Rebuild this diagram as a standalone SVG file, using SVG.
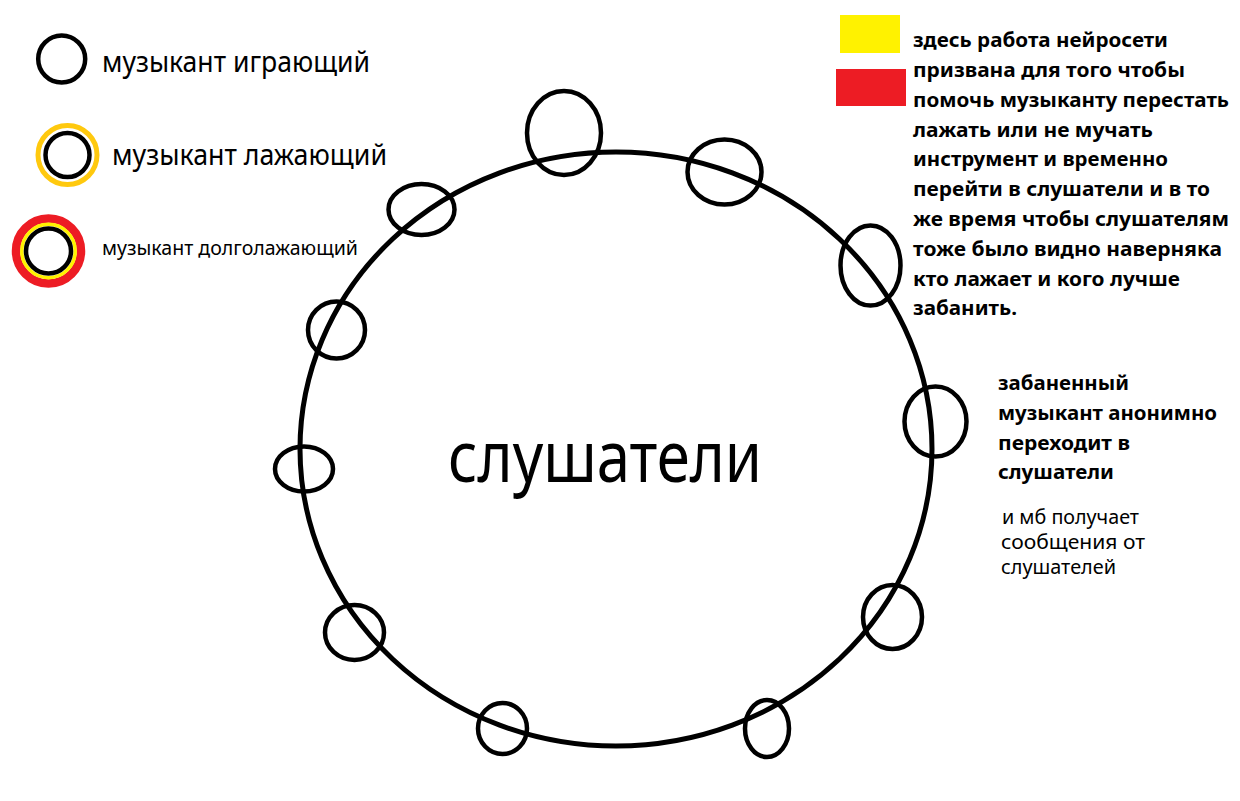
<svg xmlns="http://www.w3.org/2000/svg" width="1240" height="801" viewBox="0 0 1240 801">
<style>
.ring{fill:none;stroke:#000;stroke-width:4.5}
.big{fill:none;stroke:#000;stroke-width:5}
.t{font-family:"Noto Sans","Open Sans","DejaVu Sans",sans-serif;fill:#000}
.b{font-weight:bold;font-size:20px}
.r{font-size:19px}
</style>
<rect width="1240" height="801" fill="#fff"/>
<g id="legend">
  <g id="legend-playing">
    <circle cx="61.7" cy="59" r="23.5" class="ring" stroke-width="5"/>
    <text class="t" x="102" y="72" font-size="29" textLength="268" lengthAdjust="spacingAndGlyphs">музыкант играющий</text>
  </g>
  <g id="legend-faking">
    <circle cx="67.5" cy="155" r="29.5" fill="none" stroke="#FFC90E" stroke-width="5"/>
    <circle cx="67.5" cy="155" r="22" class="ring" stroke-width="5"/>
    <text class="t" x="112" y="165" font-size="29" textLength="275" lengthAdjust="spacingAndGlyphs">музыкант лажающий</text>
  </g>
  <g id="legend-longfaking">
    <circle cx="48.5" cy="251" r="32.5" fill="none" stroke="#ED1C24" stroke-width="8.5"/>
    <circle cx="48.5" cy="251" r="26.7" fill="none" stroke="#FFF200" stroke-width="3.5"/>
    <circle cx="48.5" cy="251" r="22.5" class="ring" stroke-width="5"/>
    <text class="t" x="102" y="255" font-size="20.5" textLength="256" lengthAdjust="spacingAndGlyphs">музыкант долголажающий</text>
  </g>
</g>
<g id="listeners">
  <ellipse cx="616" cy="449" rx="316" ry="297" class="big"/>
  <text class="t" x="448" y="482" font-size="72" textLength="314" lengthAdjust="spacingAndGlyphs">слушатели</text>
</g>
<g id="musicians">
  <ellipse id="m1" cx="564" cy="133" rx="37" ry="42" class="ring"/>
  <ellipse id="m2" cx="724.5" cy="172" rx="37" ry="32.5" class="ring"/>
  <ellipse id="m3" cx="421.5" cy="209.5" rx="33" ry="25.5" class="ring"/>
  <ellipse id="m4" cx="870.5" cy="265.5" rx="30" ry="40" class="ring"/>
  <ellipse id="m5" cx="336.5" cy="330" rx="28.5" ry="28.5" class="ring"/>
  <ellipse id="m6" cx="935.5" cy="421.5" rx="31" ry="35" class="ring"/>
  <ellipse id="m7" cx="304" cy="469" rx="29" ry="22.5" class="ring"/>
  <ellipse id="m8" cx="892.5" cy="617" rx="29.5" ry="32" class="ring"/>
  <ellipse id="m9" cx="354.5" cy="632.5" rx="29.5" ry="27.5" class="ring"/>
  <ellipse id="m10" cx="502.5" cy="728.5" rx="24.5" ry="25.5" class="ring"/>
  <ellipse id="m11" cx="767" cy="728.5" rx="22" ry="28.5" class="ring"/>
</g>
<g id="note-ai">
  <rect x="840" y="15" width="60" height="38" fill="#FFF200"/>
  <rect x="836" y="69" width="70" height="37" fill="#ED1C24"/>
  <text class="t b" x="913" y="47" textLength="255" lengthAdjust="spacingAndGlyphs">здесь работа нейросети</text>
  <text class="t b" x="913" y="77" textLength="272" lengthAdjust="spacingAndGlyphs">призвана для того чтобы</text>
  <text class="t b" x="913" y="107" textLength="316" lengthAdjust="spacingAndGlyphs">помочь музыканту перестать</text>
  <text class="t b" x="913" y="137" textLength="240" lengthAdjust="spacingAndGlyphs">лажать или не мучать</text>
  <text class="t b" x="913" y="166" textLength="255" lengthAdjust="spacingAndGlyphs">инструмент и временно</text>
  <text class="t b" x="913" y="196" textLength="297" lengthAdjust="spacingAndGlyphs">перейти в слушатели и в то</text>
  <text class="t b" x="913" y="226" textLength="316" lengthAdjust="spacingAndGlyphs">же время чтобы слушателям</text>
  <text class="t b" x="913" y="256" textLength="309" lengthAdjust="spacingAndGlyphs">тоже было видно наверняка</text>
  <text class="t b" x="913" y="286" textLength="267" lengthAdjust="spacingAndGlyphs">кто лажает и кого лучше</text>
  <text class="t b" x="913" y="315" textLength="104" lengthAdjust="spacingAndGlyphs">забанить.</text>
</g>
<g id="note-ban">
  <text class="t b" x="998" y="390" textLength="131" lengthAdjust="spacingAndGlyphs">забаненный</text>
  <text class="t b" x="998" y="420" textLength="219" lengthAdjust="spacingAndGlyphs">музыкант анонимно</text>
  <text class="t b" x="998" y="450" textLength="132" lengthAdjust="spacingAndGlyphs">переходит в</text>
  <text class="t b" x="998" y="479" textLength="116" lengthAdjust="spacingAndGlyphs">слушатели</text>
  <text class="t r" x="1002" y="524" textLength="137" lengthAdjust="spacingAndGlyphs">и мб получает</text>
  <text class="t r" x="1001" y="549" textLength="144" lengthAdjust="spacingAndGlyphs">сообщения от</text>
  <text class="t r" x="1001" y="574" textLength="115" lengthAdjust="spacingAndGlyphs">слушателей</text>
</g>
</svg>
